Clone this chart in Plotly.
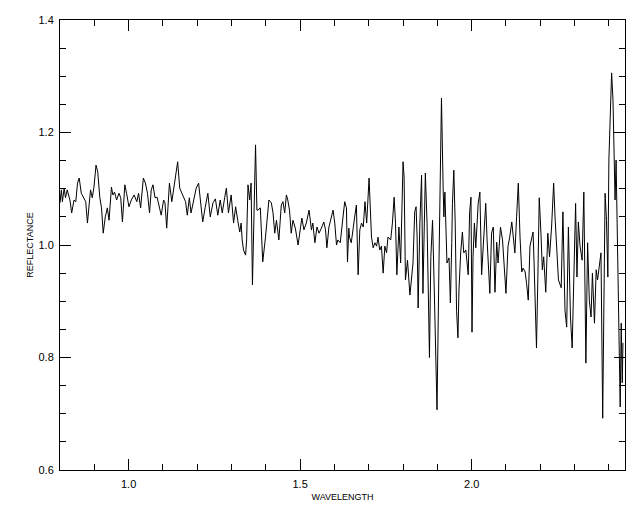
import plotly.graph_objects as go

# Wavelength (micron) and reflectance, in segments
wl_1 = [0.800, 0.804, 0.807, 0.812, 0.816, 0.821, 0.829, 0.834, 0.841, 0.846,
        0.851, 0.856, 0.862, 0.868, 0.875, 0.880, 0.885, 0.889, 0.894, 0.899,
        0.905, 0.910, 0.916, 0.921, 0.926, 0.932, 0.938, 0.943, 0.950, 0.954,
        0.959, 0.965, 0.972, 0.977, 0.982, 0.989, 0.994, 1.001, 1.008, 1.016,
        1.024, 1.029, 1.035, 1.043, 1.049, 1.055, 1.061, 1.066, 1.071, 1.077]
refl_1 = [1.075, 1.098, 1.077, 1.101, 1.084, 1.098, 1.080, 1.057, 1.080, 1.077,
          1.110, 1.119, 1.092, 1.085, 1.077, 1.039, 1.075, 1.098, 1.084, 1.103,
          1.142, 1.130, 1.085, 1.066, 1.021, 1.050, 1.066, 1.044, 1.103, 1.089,
          1.094, 1.080, 1.092, 1.084, 1.041, 1.107, 1.092, 1.068, 1.080, 1.089,
          1.077, 1.092, 1.066, 1.119, 1.110, 1.092, 1.057, 1.098, 1.107, 1.084]

wl_2 = [1.083, 1.090, 1.095, 1.102, 1.106, 1.111, 1.119, 1.126, 1.134, 1.139,
        1.143, 1.149, 1.155, 1.161, 1.166, 1.171, 1.177, 1.182, 1.189, 1.197,
        1.204, 1.210, 1.216, 1.223, 1.231, 1.238, 1.246, 1.253, 1.260, 1.267,
        1.273, 1.280, 1.285, 1.291, 1.299, 1.306, 1.312, 1.318, 1.324, 1.328,
        1.331, 1.335, 1.341, 1.344, 1.348, 1.353, 1.357, 1.361, 1.366, 1.370,
        1.374]
refl_2 = [1.085, 1.066, 1.053, 1.080, 1.075, 1.030, 1.110, 1.077, 1.110, 1.128,
          1.148, 1.101, 1.092, 1.084, 1.077, 1.053, 1.084, 1.057, 1.077, 1.101,
          1.110, 1.075, 1.041, 1.066, 1.092, 1.050, 1.075, 1.082, 1.053, 1.080,
          1.057, 1.084, 1.101, 1.057, 1.089, 1.039, 1.068, 1.044, 1.023, 1.039,
          1.009, 0.991, 0.982, 1.009, 1.107, 1.080, 1.110, 0.929, 1.080, 1.178,
          1.062]

wl_3 = [1.377, 1.384, 1.391, 1.399, 1.403, 1.409, 1.416, 1.421, 1.426, 1.431,
        1.438, 1.445, 1.450, 1.455, 1.460, 1.464, 1.469, 1.474, 1.479, 1.486,
        1.494, 1.501, 1.505, 1.511, 1.518, 1.526, 1.533, 1.537, 1.543, 1.549,
        1.555, 1.562, 1.569, 1.574, 1.578, 1.584, 1.591, 1.596, 1.601, 1.606,
        1.610, 1.617, 1.623, 1.630, 1.635, 1.638, 1.642]
refl_3 = [1.062, 1.066, 0.970, 1.014, 1.039, 1.080, 1.075, 1.057, 1.021, 1.044,
          1.009, 1.071, 1.077, 1.057, 1.089, 1.080, 1.062, 1.021, 1.044, 1.030,
          1.000, 1.032, 1.048, 1.027, 1.039, 1.062, 1.027, 1.039, 1.004, 1.032,
          1.021, 1.030, 1.041, 1.027, 0.995, 1.032, 1.048, 1.062, 1.039, 1.000,
          1.009, 1.004, 1.039, 1.077, 1.066, 0.970, 1.030]

wl_4 = [1.644, 1.649, 1.654, 1.659, 1.664, 1.669, 1.674, 1.679, 1.684, 1.689,
        1.694, 1.698, 1.701, 1.708, 1.713, 1.718, 1.723, 1.727, 1.732, 1.737,
        1.742, 1.747, 1.752, 1.756, 1.764, 1.769, 1.774, 1.778, 1.782, 1.788,
        1.793, 1.800, 1.803, 1.807, 1.813, 1.820, 1.825, 1.829, 1.834, 1.838,
        1.841, 1.844, 1.849, 1.854, 1.858, 1.865, 1.870, 1.877, 1.881, 1.886,
        1.891, 1.895, 1.899, 1.905, 1.909, 1.912, 1.917]
refl_4 = [1.014, 1.004, 1.032, 1.050, 1.071, 0.947, 1.027, 1.039, 1.032, 1.077,
          1.039, 1.098, 1.119, 1.014, 0.995, 1.004, 0.998, 1.014, 0.991, 0.998,
          0.950, 0.998, 0.986, 1.014, 1.009, 1.039, 1.085, 1.039, 0.947, 1.032,
          0.968, 1.148, 1.121, 0.938, 0.973, 0.911, 0.943, 0.968, 1.059, 1.068,
          1.014, 0.888, 1.039, 1.124, 0.914, 1.128, 1.039, 0.800, 0.979, 1.044,
          0.920, 0.783, 0.707, 0.979, 1.110, 1.261, 1.098]

wl_5 = [1.919, 1.922, 1.925, 1.928, 1.934, 1.938, 1.942, 1.944, 1.948, 1.952,
        1.956, 1.960, 1.963, 1.968, 1.973, 1.977, 1.983, 1.990, 1.994, 1.998,
        2.001, 2.004, 2.008, 2.012, 2.019, 2.024, 2.029, 2.034, 2.041, 2.045,
        2.049, 2.053, 2.058, 2.063, 2.068, 2.073, 2.077, 2.084, 2.090, 2.095,
        2.100, 2.106, 2.111, 2.117, 2.121, 2.126, 2.131, 2.136, 2.141, 2.146,
        2.150, 2.156, 2.160, 2.165, 2.170, 2.174, 2.179, 2.182, 2.187, 2.189,
        2.193, 2.197]
refl_5 = [1.050, 1.094, 0.997, 0.968, 0.977, 0.897, 1.004, 1.074, 1.133, 1.039,
          0.884, 0.835, 0.920, 0.986, 1.023, 0.986, 0.991, 0.947, 1.057, 1.085,
          0.845, 0.979, 1.039, 0.995, 1.074, 1.094, 0.947, 0.998, 1.074, 1.009,
          0.968, 0.914, 1.021, 1.032, 0.916, 1.005, 0.968, 1.032, 1.009, 0.961,
          0.914, 0.998, 1.014, 1.041, 1.021, 0.986, 1.050, 1.110, 1.014, 0.952,
          0.959, 0.952, 0.932, 0.902, 0.998, 1.009, 1.023, 0.968, 0.872, 0.817,
          0.943, 1.084]

wl_6 = [2.202, 2.206, 2.210, 2.216, 2.222, 2.227, 2.233, 2.239, 2.243, 2.247,
        2.253, 2.261, 2.266, 2.272, 2.277, 2.282, 2.288, 2.293, 2.299, 2.303,
        2.307, 2.311, 2.316, 2.322, 2.327, 2.330, 2.333, 2.338, 2.343, 2.348,
        2.352, 2.358, 2.363, 2.367, 2.372, 2.377, 2.382, 2.386, 2.389, 2.393,
        2.397, 2.400, 2.404, 2.408, 2.412, 2.415, 2.418, 2.421, 2.424, 2.428,
        2.431, 2.433, 2.436, 2.439, 2.441]
refl_6 = [1.021, 0.956, 0.979, 0.916, 1.021, 0.979, 1.032, 1.110, 1.050, 1.009,
          0.938, 0.924, 1.059, 0.884, 0.854, 1.032, 0.872, 0.817, 0.968, 1.074,
          0.943, 1.041, 0.998, 0.973, 1.094, 0.973, 0.790, 1.004, 0.902, 0.872,
          0.950, 0.861, 0.956, 0.938, 0.968, 0.986, 0.692, 0.914, 1.092, 1.044,
          0.943, 1.151, 1.240, 1.306, 1.258, 1.164, 1.080, 1.151, 1.057, 0.902,
          0.795, 0.712, 0.861, 0.755, 0.826]

wavelength = wl_1 + wl_2 + wl_3 + wl_4 + wl_5 + wl_6
reflectance = refl_1 + refl_2 + refl_3 + refl_4 + refl_5 + refl_6

x_range = [0.8, 2.447]
y_range = [0.6, 1.4]
x_tickvals = [1.0, 1.5, 2.0]
x_ticktext = ["1.0", "1.5", "2.0"]
y_tickvals = [0.6, 0.8, 1.0, 1.2, 1.4]
y_ticktext = ["0.6", "0.8", "1.0", "1.2", "1.4"]

fig = go.Figure()
fig.add_trace(go.Scatter(x=wavelength, y=reflectance, mode="lines",
                         line=dict(color="black", width=1), showlegend=False,
                         hoverinfo="skip"))

tick_font = dict(family="Liberation Sans, Arial, sans-serif", size=11, color="black")
title_font = dict(family="Liberation Sans, Arial, sans-serif", size=9, color="black")

fig.update_layout(
    width=640, height=512,
    margin=dict(l=52, r=23, t=12, b=50, pad=0),
    paper_bgcolor="white", plot_bgcolor="white",
    showlegend=False,
    xaxis=dict(
        range=x_range, showgrid=False, zeroline=False,
        showline=True, linecolor="black", linewidth=1, mirror="ticks",
        ticks="inside", ticklen=11, tickwidth=1, tickcolor="black",
        tickvals=x_tickvals, ticktext=x_ticktext, tickfont=tick_font,
        ticklabelstandoff=4,
        minor=dict(ticks="inside", dtick=0.1, tick0=0.8, ticklen=6,
                   tickcolor="black", tickwidth=1, showgrid=False),
        title=dict(text="WAVELENGTH", font=title_font, standoff=4),
        automargin=False,
    ),
    yaxis=dict(
        range=y_range, showgrid=False, zeroline=False,
        showline=True, linecolor="black", linewidth=1, mirror="ticks",
        ticks="inside", ticklen=11, tickwidth=1, tickcolor="black",
        tickvals=y_tickvals, ticktext=y_ticktext, tickfont=tick_font,
        ticklabelstandoff=3,
        minor=dict(ticks="inside", dtick=0.05, tick0=0.6, ticklen=6,
                   tickcolor="black", tickwidth=1, showgrid=False),
        title=dict(text="REFLECTANCE", font=title_font, standoff=3),
        automargin=False,
    ),
)

fig.write_html("out.html")
